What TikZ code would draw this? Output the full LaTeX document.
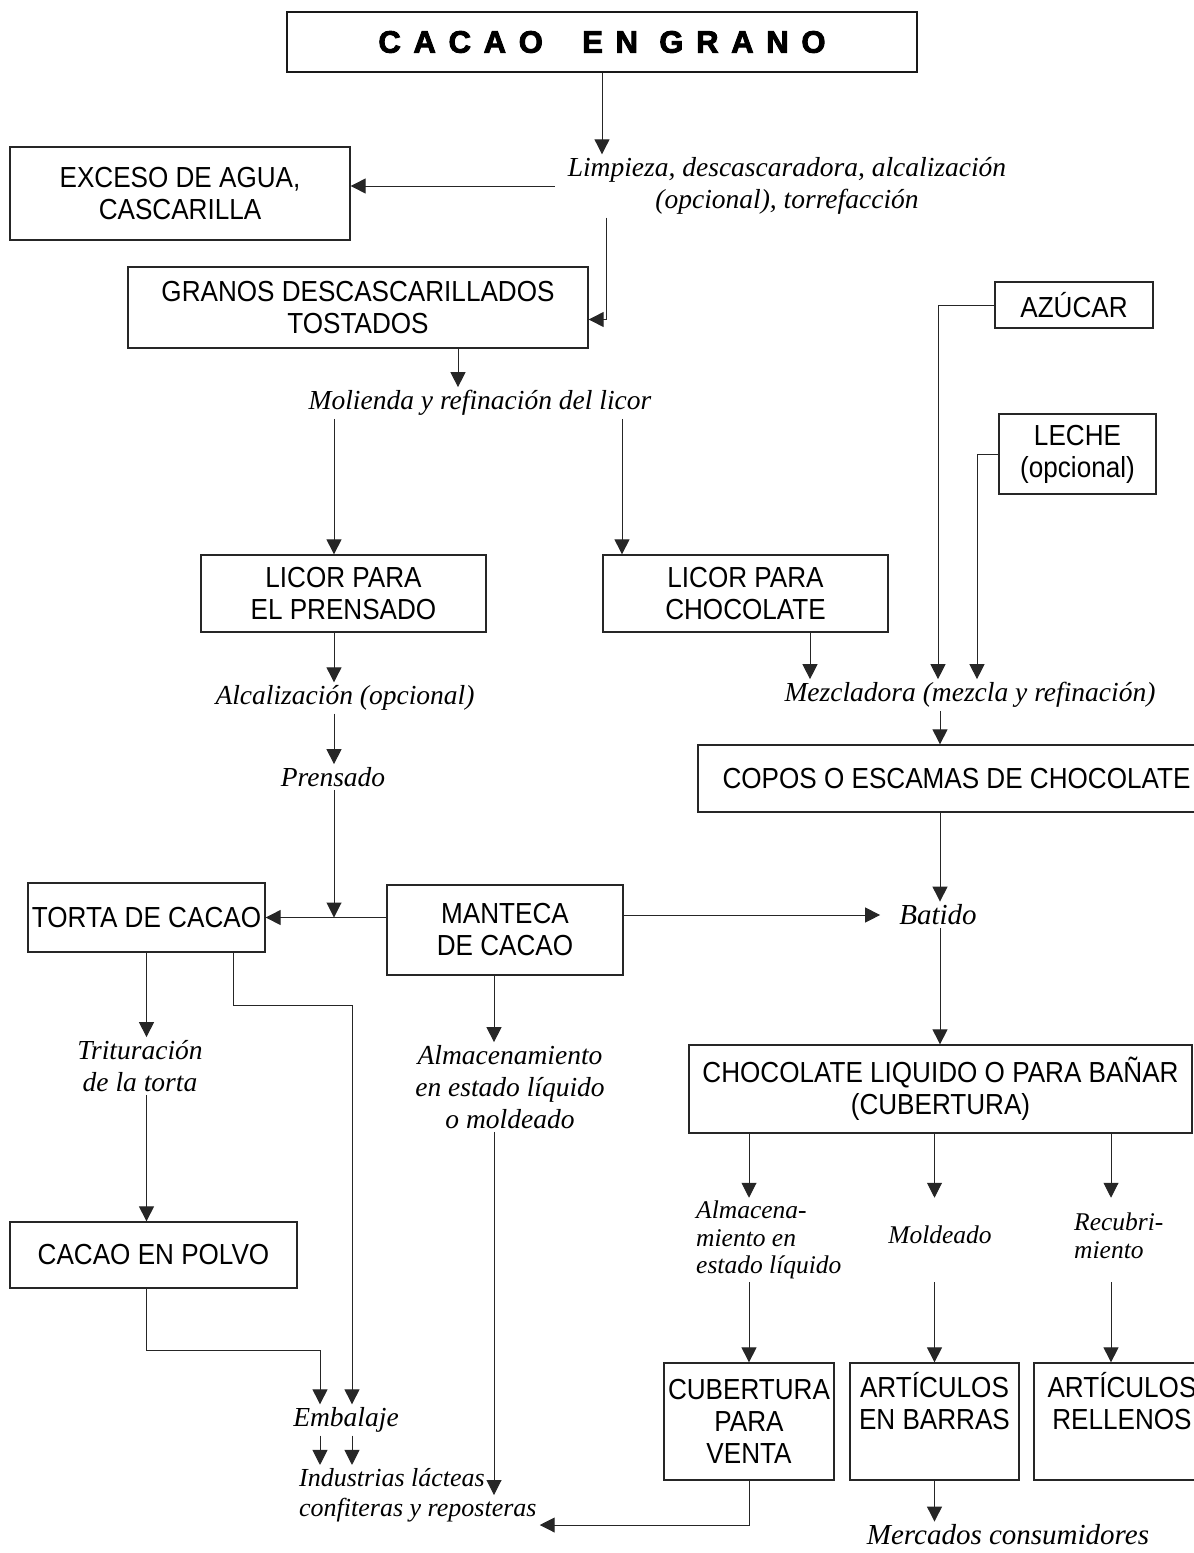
\documentclass[tikz,border=0pt]{standalone}
\usepackage{fontspec}
\setmainfont{Liberation Serif}
\newfontfamily\boxfont[FakeStretch=0.9]{Liberation Sans}
\newfontfamily\titlefont[LetterSpace=41,BoldFeatures={FakeBold=3}]{Liberation Sans}
\usetikzlibrary{positioning, arrows.meta}

\begin{document}
\begin{tikzpicture}[
    x=1pt, y=-1pt,
    box/.style={draw=black!85, line width=1.3pt, inner sep=0pt, align=center,
        font=\boxfont\fontsize{29}{32}\selectfont},
    title/.style={draw=black!90, line width=2.4pt, inner sep=0pt,
        font=\titlefont\bfseries\fontsize{31}{36}\selectfont},
    proc/.style={inner sep=3pt, align=center, font=\itshape\fontsize{27.5}{32}\selectfont},
    procs/.style={proc, font=\itshape\fontsize{25.5}{27.5}\selectfont},
    arrow/.style={-{Triangle[length=15pt, width=15pt]}, line width=1pt, draw=black!85},
]
\useasboundingbox (0,0) rectangle (1194,1553);
\clip (0,0) rectangle (1194,1553);

% Raw beans and cleaning
\node[title, minimum width=630pt, minimum height=60pt] (grano) at (602,42) {CACAO\hspace{18pt} EN GRANO};
\node[proc] (limpieza) at (787,186) {Limpieza, descascaradora, alcalización\\(opcional), torrefacción};
\node[box, minimum width=340pt, minimum height=93pt] (exceso) at (180,193.5) {EXCESO DE AGUA,\\CASCARILLA};
\node[box, minimum width=460pt, minimum height=81pt] (granos) at (358,307.5) {GRANOS DESCASCARILLADOS\\TOSTADOS};
\node[proc] (molienda) at (480,403) {Molienda y refinación del licor};

% Liquor, sugar and milk
\node[box, minimum width=285pt, minimum height=77pt] (licorP) at (343.5,593.5) {LICOR PARA\\EL PRENSADO};
\node[box, minimum width=285pt, minimum height=77pt] (licorC) at (745.5,593.5) {LICOR PARA\\CHOCOLATE};
\node[box, minimum width=158pt, minimum height=46pt] (azucar) at (1074,305) {AZÚCAR};
\node[box, minimum width=157pt, minimum height=80pt] (leche) at (1077.5,454) {LECHE\\(opcional)};
\node[proc] (alcal) at (345,698) {Alcalización (opcional)};
\node[proc] (prensado) at (333,777) {Prensado};
\node[proc] (mezcla) at (970,695) {Mezcladora (mezcla y refinación)};
\node[box, minimum width=517pt, minimum height=67pt] (copos) at (956.5,778.5) {COPOS O ESCAMAS DE CHOCOLATE};

% Pressing products
\node[box, minimum width=237pt, minimum height=69pt] (torta) at (146.5,917.5) {TORTA DE CACAO};
\node[box, minimum width=236pt, minimum height=90pt] (manteca) at (505,930) {MANTECA\\DE CACAO};
\node[proc, font=\itshape\fontsize{29}{32}\selectfont] (batido) at (938,915) {Batido};
\node[box, minimum width=503pt, minimum height=88pt] (liquido) at (940.5,1089) {CHOCOLATE LIQUIDO O PARA BAÑAR\\(CUBERTURA)};
\node[proc] (tritur) at (140,1066) {Trituración\\de la torta};
\node[proc] (almac) at (510,1087) {Almacenamiento\\en estado líquido\\o moldeado};
\node[box, minimum width=287pt, minimum height=66pt] (polvo) at (153.5,1255) {CACAO EN POLVO};

% Chocolate branches
\node[procs, align=left, anchor=west] (almacena) at (693,1240) {Almacena-\\miento en\\estado líquido};
\node[procs] (moldeado) at (940,1235) {Moldeado};
\node[procs, align=left, anchor=west] (recubri) at (1071,1236) {Recubri-\\miento};
\node[box, minimum width=170pt, minimum height=117pt] (venta) at (749,1421.5) {CUBERTURA\\PARA\\VENTA};
\node[box, minimum width=169pt, minimum height=117pt] (barras) at (934.5,1421.5) {ARTÍCULOS\\EN BARRAS\\\strut};
\node[box, minimum width=176pt, minimum height=117pt] (rellenos) at (1122,1421.5) {ARTÍCULOS\\RELLENOS\\\strut};

% Final uses
\node[proc] (embalaje) at (346,1420) {Embalaje};
\node[proc, align=left, anchor=west, font=\itshape\fontsize{26}{30}\selectfont] (industrias) at (296,1495) {Industrias lácteas\\confiteras y reposteras};
\node[proc, font=\itshape\fontsize{29}{32}\selectfont] (mercados) at (1008,1535) {Mercados consumidores};

% Columns of the vertical connectors
\coordinate (cLimp) at (606,0);
\coordinate (cGran) at (458,0);
\coordinate (cPren) at (334,0);
\coordinate (cChoc) at (622,0);
\coordinate (cAzu) at (938,0);
\coordinate (cLec) at (977,0);
\coordinate (cLC) at (810,0);
\coordinate (cMez) at (940,0);
\coordinate (cTor) at (233,0);
\coordinate (cEmA) at (320,0);
\coordinate (cEmB) at (352,0);
\coordinate (cMan) at (494,0);
\coordinate (cRel) at (1111,0);

% Upper flow
\draw[arrow] (grano.south) -- (grano.south |- limpieza.north);
\draw[arrow] ([xshift=-10pt]limpieza.west) -- (exceso.east |- limpieza.west);
\draw[arrow] (cLimp |- limpieza.south) |- ([yshift=-12pt]granos.east);
\draw[arrow] (cGran |- granos.south) -- (cGran |- molienda.north);
\draw[arrow] (cPren |- molienda.south) -- (cPren |- licorP.north);
\draw[arrow] (cChoc |- molienda.south) -- (cChoc |- licorC.north);

% Mixing
\draw[arrow] (azucar.west) -| (cAzu |- mezcla.north);
\draw[arrow] (leche.west) -| (cLec |- mezcla.north);
\draw[arrow] (cLC |- licorC.south) -- (cLC |- mezcla.north);
\draw[arrow] (cMez |- mezcla.south) -- (cMez |- copos.north);
\draw[arrow] (cMez |- copos.south) -- (cMez |- batido.north);

% Pressing
\draw[arrow] (cPren |- licorP.south) -- (cPren |- alcal.north);
\draw[arrow] (cPren |- alcal.south) -- (cPren |- prensado.north);
\coordinate (junta) at (cPren |- torta.east);
\draw[arrow] (cPren |- prensado.south) -- (junta);
\draw[arrow] (manteca.west |- torta.east) -- (torta.east);
\draw[arrow] (manteca.east |- batido.west) -- ([xshift=-16pt]batido.west);
\draw[arrow] (cMez |- batido.south) -- (cMez |- liquido.north);

% Cake and powder
\draw[arrow] (torta.south) -- (torta.south |- tritur.north);
\draw[arrow] (torta.south |- tritur.south) -- (torta.south |- polvo.north);
\draw[arrow] (cTor |- torta.south) -- ++(0,53) -| (cEmB |- embalaje.north);
\draw[arrow] (torta.south |- polvo.south) -- ++(0,62) -| (cEmA |- embalaje.north);
\draw[arrow] (cEmA |- embalaje.south) -- (cEmA |- industrias.north);
\draw[arrow] (cEmB |- embalaje.south) -- (cEmB |- industrias.north);

% Butter
\draw[arrow] (cMan |- manteca.south) -- (cMan |- almac.north);
\draw[arrow] (cMan |- almac.south) -- (cMan |- industrias.east);

% Chocolate branches
\draw[arrow] (venta.north |- liquido.south) -- (venta.north |- almacena.north);
\draw[arrow] (barras.north |- liquido.south) -- (barras.north |- almacena.north);
\draw[arrow] (cRel |- liquido.south) -- (cRel |- almacena.north);
\draw[arrow] (venta.north |- almacena.south) -- (venta.north);
\draw[arrow] (barras.north |- almacena.south) -- (barras.north);
\draw[arrow] (cRel |- almacena.south) -- (cRel |- rellenos.north);
\draw[arrow] (venta.south) |- ([yshift=-30pt]industrias.east);
\draw[arrow] (barras.south) -- (barras.south |- mercados.north);

\end{tikzpicture}
\end{document}
